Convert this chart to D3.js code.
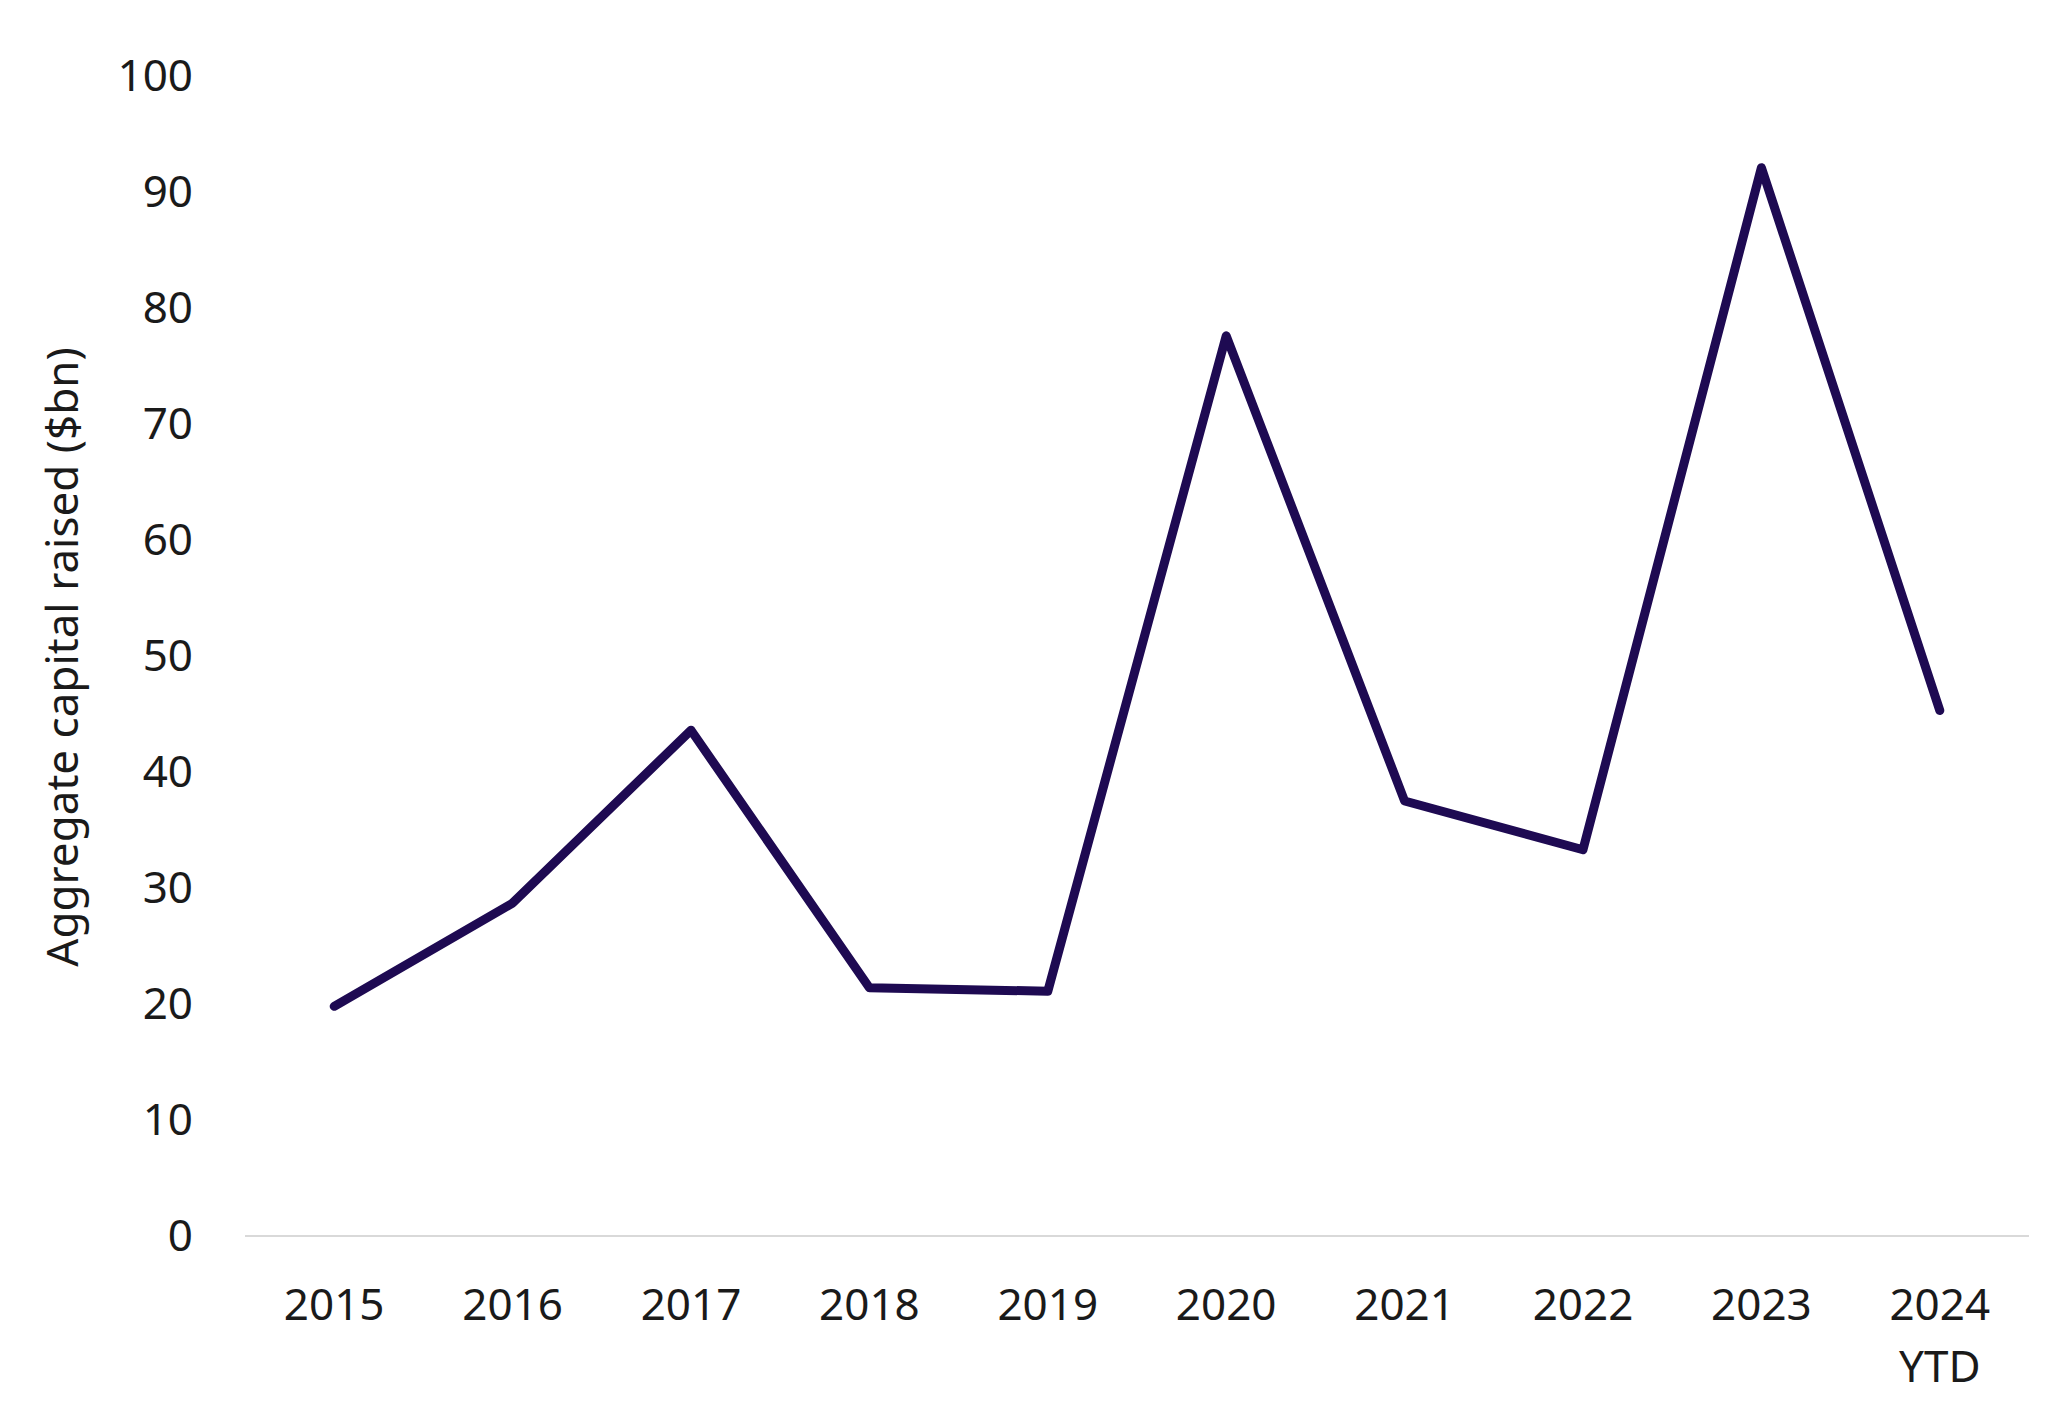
<!DOCTYPE html>
<html>
<head>
<meta charset="utf-8">
<script src="https://cdn.jsdelivr.net/npm/d3@7"></script>
<style>
  body { margin: 0; background: #fff; }
  text { font-family: "Noto Sans", sans-serif; fill: #1a1a1a; }
</style>
</head>
<body>
<svg id="chart" width="2066" height="1423"></svg>
<script>
var years = ['2015', '2016', '2017', '2018', '2019', '2020', '2021', '2022', '2023', '2024 YTD'];
var capital = [19.8, 28.7, 43.6, 21.4, 21.1, 77.6, 37.5, 33.3, 92.1, 45.3];
var yTicks = [0, 10, 20, 30, 40, 50, 60, 70, 80, 90, 100];

var svg = d3.select('#chart');
var plotLeft = 245, plotRight = 2029, plotTop = 76, plotBottom = 1236;

var x = d3.scaleBand().domain(years).range([plotLeft, plotRight]);
var y = d3.scaleLinear().domain([0, 100]).range([plotBottom, plotTop]);

// baseline
svg.append('line')
  .attr('x1', plotLeft).attr('x2', plotRight)
  .attr('y1', plotBottom).attr('y2', plotBottom)
  .attr('stroke', '#d9d9d9').attr('stroke-width', 2);

// y tick labels
svg.selectAll('.ytick').data(yTicks).enter().append('text')
  .attr('x', 193)
  .attr('y', function(d) { return y(d); })
  .attr('dy', '0.35em')
  .attr('text-anchor', 'end')
  .attr('font-size', 44)
  .text(function(d) { return d; });

// x labels
var xl = svg.selectAll('.xlab').data(years).enter().append('text')
  .attr('text-anchor', 'middle')
  .attr('font-size', 44)
  .attr('y', 1320);
xl.each(function(d) {
  var parts = d.split(' ');
  var t = d3.select(this);
  parts.forEach(function(p, i) {
    t.append('tspan')
      .attr('x', x(d) + x.bandwidth() / 2)
      .attr('dy', i ? 62 : 0)
      .text(p);
  });
});

// y title
svg.append('text')
  .attr('transform', 'translate(78,657) rotate(-90)')
  .attr('text-anchor', 'middle')
  .attr('font-size', 44)
  .text('Aggregate capital raised ($bn)');

// line
var line = d3.line()
  .x(function(d, i) { return x(years[i]) + x.bandwidth() / 2; })
  .y(function(d) { return y(d); });

svg.append('path')
  .datum(capital)
  .attr('d', line)
  .attr('fill', 'none')
  .attr('stroke', '#1e0a52')
  .attr('stroke-width', 9)
  .attr('stroke-linecap', 'round')
  .attr('stroke-linejoin', 'round');
</script>
</body>
</html>
